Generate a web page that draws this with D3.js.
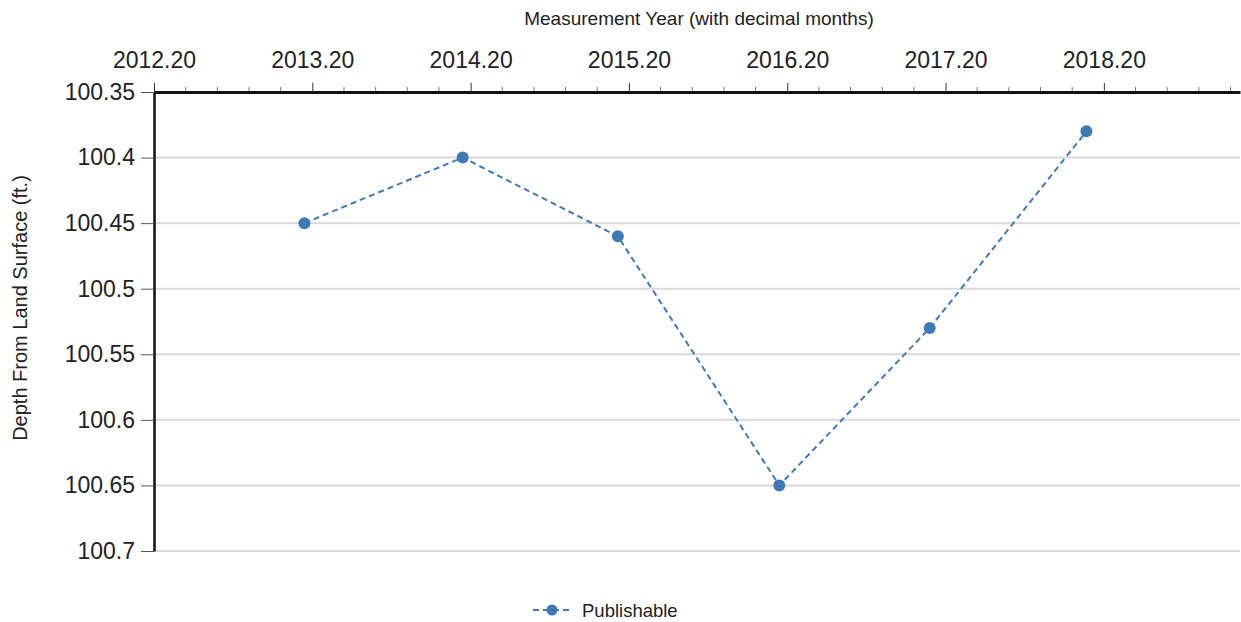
<!DOCTYPE html>
<html>
<head>
<meta charset="utf-8">
<script src="https://cdn.jsdelivr.net/npm/d3@7"></script>
<style>
  body { margin: 0; background: #fff; }
  text { font-family: "Liberation Sans", Arial, sans-serif; fill: #222; }
</style>
</head>
<body>
<div id="chart"></div>
<script>
// measurement dates (decimal years) and depths (ft.)
const years  = [2013.15, 2014.15, 2015.13, 2016.15, 2017.10, 2018.09];
const depths = [100.45, 100.40, 100.46, 100.65, 100.53, 100.38];
const xTicks = [2012.2, 2013.2, 2014.2, 2015.2, 2016.2, 2017.2, 2018.2];
const yTicks = [100.35, 100.4, 100.45, 100.5, 100.55, 100.6, 100.65, 100.7];
const seriesName = "Publishable";

const width = 1241, height = 622;
const margin = {top: 92, right: 1, bottom: 71, left: 154};
const w = width - margin.left - margin.right;
const h = height - margin.top - margin.bottom;

const svg = d3.select("#chart").append("svg")
    .attr("width", width)
    .attr("height", height);

const g = svg.append("g")
    .attr("transform", `translate(${margin.left},${margin.top})`);

const x = d3.scaleLinear().domain([2012.2, 2019.06]).range([0, w]);
const y = d3.scaleLinear().domain([100.35, 100.7]).range([0, h]);

// gridlines
g.append("g").selectAll("line")
    .data(yTicks.slice(1))
    .enter().append("line")
    .attr("x1", 0).attr("x2", w)
    .attr("y1", d => y(d)).attr("y2", d => y(d))
    .attr("stroke", "#d9d9d9")
    .attr("stroke-width", 2);

// minor ticks on top axis
const minor = d3.range(2012.2, 2019.05, 0.2).filter(v => !xTicks.some(t => Math.abs(t - v) < 1e-6));
g.append("g").selectAll("line")
    .data(minor)
    .enter().append("line")
    .attr("x1", d => x(d)).attr("x2", d => x(d))
    .attr("y1", 0).attr("y2", -5)
    .attr("stroke", "#777")
    .attr("stroke-width", 1);

// top x axis
const xAxis = d3.axisTop(x)
    .tickValues(xTicks)
    .tickFormat(d3.format(".2f"))
    .tickSize(9)
    .tickPadding(15)
    .tickSizeOuter(0);
const gx = g.append("g").attr("class", "x-axis").call(xAxis);
gx.select(".domain").attr("stroke", "#111").attr("stroke-width", 3);
gx.selectAll(".tick line").attr("stroke", "#333");
gx.selectAll("text").style("font-size", "23px").attr("fill", "#222");

// left y axis
const yAxis = d3.axisLeft(y)
    .tickValues(yTicks)
    .tickFormat(d => +d.toFixed(2))
    .tickSize(13)
    .tickPadding(6)
    .tickSizeOuter(0);
const gy = g.append("g").attr("class", "y-axis").call(yAxis);
gy.select(".domain").attr("stroke", "#111").attr("stroke-width", 2.5);
gy.selectAll(".tick line").attr("stroke", "#555");
gy.selectAll("text").style("font-size", "23px").attr("fill", "#222");

// axis titles
svg.append("text")
    .attr("x", 699)
    .attr("y", 25)
    .attr("text-anchor", "middle")
    .style("font-size", "19px")
    .text("Measurement Year (with decimal months)");

svg.append("text")
    .attr("transform", `translate(27, 308) rotate(-90)`)
    .attr("text-anchor", "middle")
    .style("font-size", "20px")
    .text("Depth From Land Surface (ft.)");

// series
const color = "#3f7ab6";
const pts = years.map((v, i) => ({x: v, y: depths[i]}));

g.append("path")
    .datum(pts)
    .attr("fill", "none")
    .attr("stroke", color)
    .attr("stroke-width", 2)
    .attr("stroke-dasharray", "6,4")
    .attr("d", d3.line().x(d => x(d.x)).y(d => y(d.y)));

g.selectAll(".dot")
    .data(pts)
    .enter().append("circle")
    .attr("class", "dot")
    .attr("cx", d => x(d.x))
    .attr("cy", d => y(d.y))
    .attr("r", 6)
    .attr("fill", color);

// legend
const lg = svg.append("g").attr("transform", "translate(533, 610)");
lg.append("line")
    .attr("x1", 0).attr("x2", 36)
    .attr("y1", 0).attr("y2", 0)
    .attr("stroke", color)
    .attr("stroke-width", 2)
    .attr("stroke-dasharray", "6,4");
lg.append("circle").attr("cx", 19).attr("cy", 0).attr("r", 5.5).attr("fill", color);
lg.append("text")
    .attr("x", 49).attr("y", 7)
    .style("font-size", "18.5px")
    .text(seriesName);
</script>
</body>
</html>
